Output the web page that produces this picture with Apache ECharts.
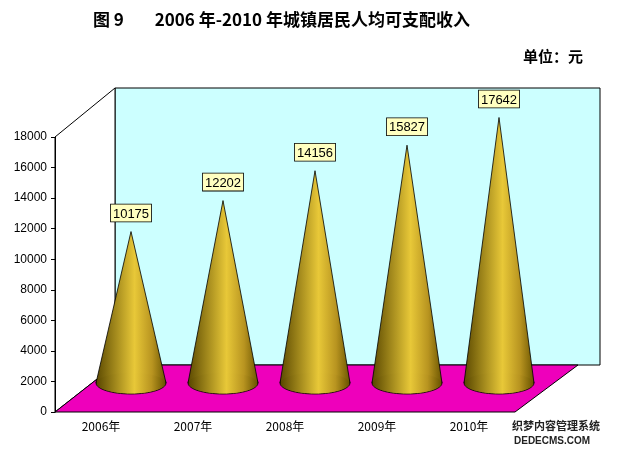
<!DOCTYPE html>
<html><head><meta charset="utf-8">
<script src="https://cdn.jsdelivr.net/npm/echarts@6/dist/echarts.min.js"></script>
<style>html,body{margin:0;padding:0;background:#fff}#c{width:621px;height:454px}</style>
</head><body><div id="c"></div>
<script>
var years = ['2006年', '2007年', '2008年', '2009年', '2010年'];
var income = [10175, 12202, 14156, 15827, 17642];

var DX = 30, DY = -29; // cone depth offset

var chart = echarts.init(document.getElementById('c'));
var option = {
	backgroundColor: '#fff',
	animation: false,
	title: [
		{ text: '图 9        2006 年-2010 年城镇居民人均可支配收入', left: 88, top: 6,
		  textStyle: { fontFamily: 'Noto Sans CJK SC', fontSize: 17, fontWeight: 'bold', color: '#000' } },
		{ text: '单位：元', left: 518, top: 44,
		  textStyle: { fontFamily: 'Noto Sans CJK SC', fontSize: 15, fontWeight: 'bold', color: '#000' } }
	],
	grid: { left: 55, top: 137, width: 460, height: 275 },
	graphic: [
		{ type: 'polygon', z: -10, shape: { points: [[115, 88], [600, 88], [600, 365], [115, 365]] },
		  style: { fill: '#ccffff', stroke: '#000', lineWidth: 1 } },
		{ type: 'polygon', z: -10, shape: { points: [[55, 137], [115, 88], [115, 365], [55, 412]] },
		  style: { fill: '#fff', stroke: '#000', lineWidth: 1 } },
		{ type: 'polygon', z: -9, shape: { points: [[55, 412], [115, 365], [578, 365], [515, 412]] },
		  style: { fill: '#ee00bb', stroke: '#000', lineWidth: 1 } },
		{ type: 'text', left: 512, top: 420, z: 10,
		  style: { text: '织梦内容管理系统', fill: '#222', font: 'bold 11px "Noto Sans CJK SC"' } },
		{ type: 'text', left: 514, top: 436, z: 10,
		  style: { text: 'DEDECMS.COM', fill: '#222', font: 'bold 10px sans-serif' } }
	],
	xAxis: {
		type: 'category', data: years,
		axisLine: { show: false }, axisTick: { show: false },
		axisLabel: { color: '#000', fontSize: 12, fontFamily: 'Noto Sans CJK SC', margin: 8 }
	},
	yAxis: {
		type: 'value', min: 0, max: 18000, interval: 2000,
		axisLine: { show: true, lineStyle: { color: '#000' } },
		axisTick: { show: true, length: 4, lineStyle: { color: '#000' } },
		splitLine: { show: false },
		axisLabel: { color: '#000', fontSize: 12, fontFamily: 'Liberation Sans',
			formatter: function (v) { return String(v); } }
	},
	series: [{
		type: 'custom',
		data: income.map(function (v, i) { return [i, v]; }),
		renderItem: function (params, api) {
			var b = api.coord([api.value(0), 0]);
			var t = api.coord([api.value(0), api.value(1)]);
			var cx = b[0] + DX, by = b[1] + DY, ty = t[1] + DY + 4;
			var rx = 35, ry = 11;
			var grad = new echarts.graphic.LinearGradient(0, 0, 1, 0, [
				{ offset: 0, color: '#5a4800' }, { offset: 0.55, color: '#e8c838' },
				{ offset: 0.8, color: '#b89420' }, { offset: 1, color: '#6a5400' }]);
			return {
				type: 'group',
				children: [
					{ type: 'ellipse', shape: { cx: cx, cy: by, rx: rx, ry: ry },
					  style: { fill: grad, stroke: '#000', lineWidth: 0.8 } },
					{ type: 'polygon', shape: { points: [[cx, ty], [cx - rx, by], [cx + rx, by]] },
					  style: { fill: grad, stroke: '#000', lineWidth: 0.8 } },
					{ type: 'ellipse', shape: { cx: cx, cy: by, rx: rx - 0.8, ry: ry - 0.8 },
					  style: { fill: grad } },
					{ type: 'text', x: cx, y: ty - 10,
					  style: { text: String(api.value(1)), align: 'center', verticalAlign: 'bottom',
						fill: '#000', font: '13px "Liberation Sans"', backgroundColor: '#ffffc0',
						borderColor: '#000', borderWidth: 0.8, padding: [3, 2, 1, 2] } }
				]
			};
		}
	}]
};
chart.setOption(option);
</script>
</body></html>
